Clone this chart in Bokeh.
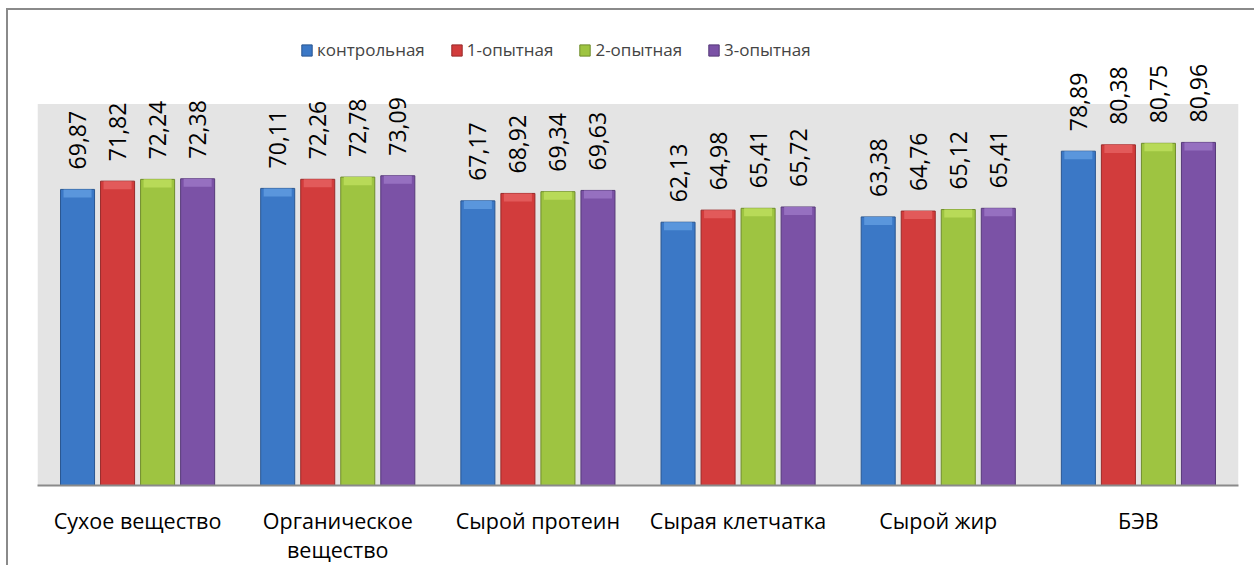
import math
from bokeh.plotting import figure
from bokeh.models import ColumnDataSource, FactorRange, Legend, LegendItem, BoxAnnotation
from bokeh.transform import dodge
from bokeh.core.properties import value
from bokeh.embed import file_html
from bokeh.resources import INLINE

categories = ["Сухое вещество", "Органическое\nвещество", "Сырой протеин",
              "Сырая клетчатка", "Сырой жир", "БЭВ"]
series_names = ["контрольная", "1-опытная", "2-опытная", "3-опытная"]
control = [69.87, 70.11, 67.17, 62.13, 63.38, 78.89]
exp1 = [71.82, 72.26, 68.92, 64.98, 64.76, 80.38]
exp2 = [72.24, 72.78, 69.34, 65.41, 65.12, 80.75]
exp3 = [72.38, 73.09, 69.63, 65.72, 65.41, 80.96]
axis_max = 90

colors = ["#3b78c6", "#d23c3c", "#9ec441", "#7b52a6"]
edges = ["#2a5690", "#982a2a", "#6f8c2c", "#563a78"]
tops = ["#5a96dc", "#e25a5a", "#b8da58", "#9670c0"]

FONT = "Open Sans"
series = [control, exp1, exp2, exp3]

data = dict(cat=categories)
for i, s in enumerate(series):
    data[f"s{i}"] = s
    data[f"b{i}"] = [v - 1.9 for v in s]
    data[f"l{i}"] = [f"{v:.2f}".replace(".", ",") for v in s]
src = ColumnDataSource(data)

W, H = 1248, 557
left, right, top, bottom = 29, 18, 0, 80
frame_h = H - top - bottom
gray_h = 383  # pixel height of the shaded plot area
y_top = axis_max * frame_h / gray_h

p = figure(x_range=FactorRange(*categories, range_padding=0), y_range=(0, y_top),
           width=W, height=H, output_backend="svg", toolbar_location=None,
           min_border_left=left, min_border_right=right, min_border_top=top,
           min_border_bottom=bottom)
p.background_fill_color = "white"
p.border_fill_color = "white"
p.outline_line_color = None
p.grid.visible = False
p.yaxis.visible = False

p.add_layout(BoxAnnotation(bottom=0, top=axis_max, fill_color="#e4e4e4", fill_alpha=1,
                           line_color=None, level="underlay"))

offsets = [-0.3, -0.1, 0.1, 0.3]
items = []
for i in range(4):
    xx = dodge("cat", offsets[i], range=p.x_range)
    r = p.vbar(x=xx, top=f"s{i}", width=0.17, source=src,
               fill_color=colors[i], line_color=edges[i], line_width=1)
    p.vbar(x=xx, top=f"s{i}", bottom=f"b{i}", width=0.14, source=src,
           fill_color=tops[i], line_color=None)
    items.append(LegendItem(label=series_names[i], renderers=[r]))
    p.text(x=xx, y=f"s{i}", text=f"l{i}", source=src, angle=math.pi / 2,
           text_align="left", text_baseline="middle", y_offset=-20,
           text_font=value(FONT), text_font_size="23px", text_color="black")

p.xaxis.axis_line_color = "#8a8a8a"
p.xaxis.axis_line_width = 2
p.xaxis.major_tick_line_color = None
p.xaxis.minor_tick_line_color = None
p.xaxis.major_label_standoff = 14
p.xaxis.major_label_text_font = FONT
p.xaxis.major_label_text_font_size = "21.5px"
p.xaxis.major_label_text_color = "black"
p.xaxis.major_label_text_line_height = 1.03

legend = Legend(items=items, orientation="horizontal", location=(263, 424),
                glyph_width=13, glyph_height=14, label_standoff=4, spacing=25,
                label_text_font=FONT, label_text_font_size="17px",
                border_line_color=None, background_fill_alpha=0, padding=0, margin=0)
p.add_layout(legend, "center")

p.styles = {"margin-left": "6px", "margin-top": "8px",
            "border-left": "2px solid #8a8a8a", "border-top": "2px solid #8a8a8a"}

open("out.html", "w").write(file_html(p, INLINE))
